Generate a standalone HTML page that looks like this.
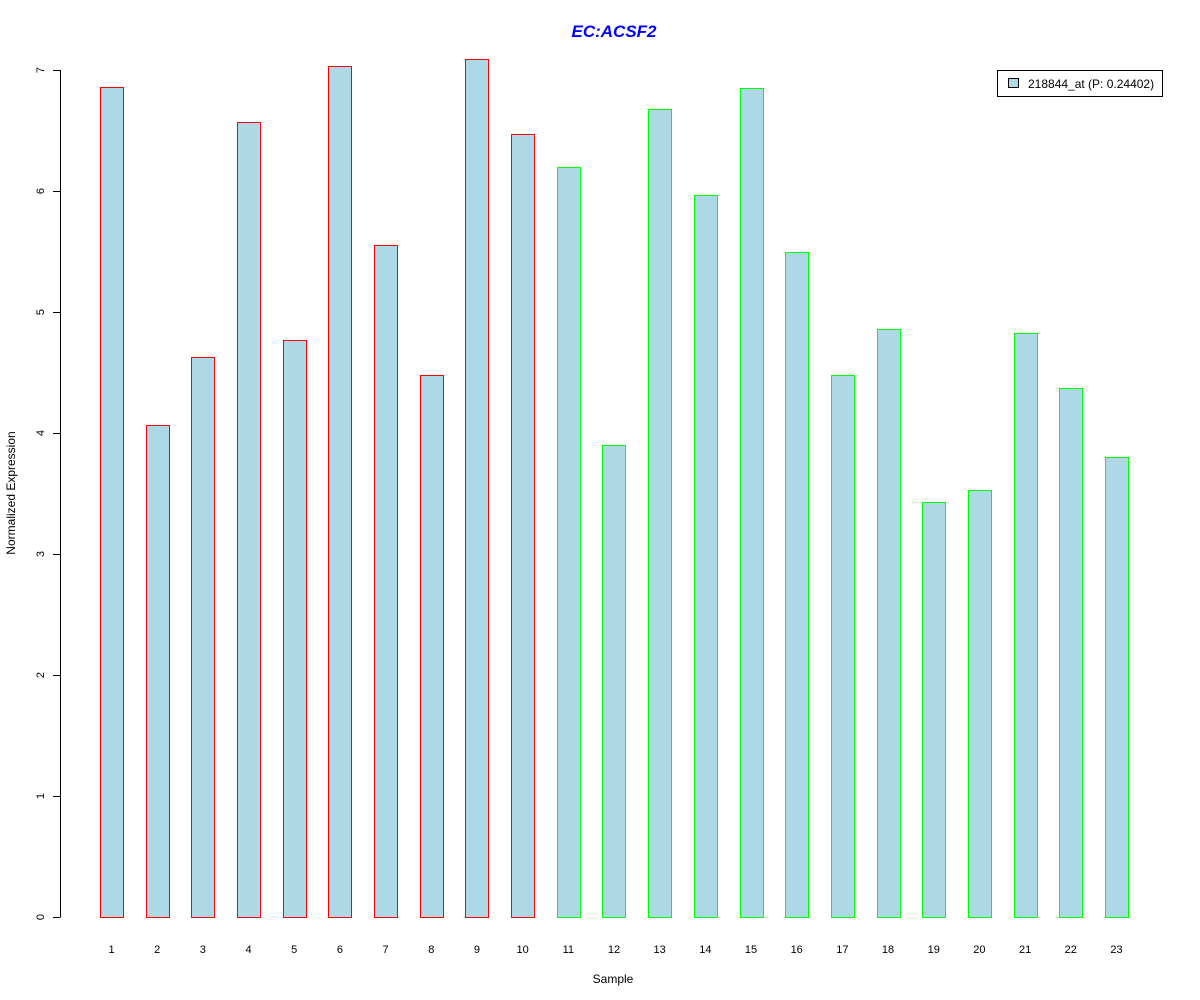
<!DOCTYPE html>
<html><head><meta charset="utf-8"><style>
body{margin:0;background:#fff;}
svg{display:block;font-family:"Liberation Sans",Arial,sans-serif;}
</style></head><body>
<svg id="chart" width="1200" height="1000">
<rect width="1200" height="1000" fill="#fff"/>
<text x="614" y="37" text-anchor="middle" font-size="17" font-weight="bold" font-style="italic" fill="#0000ff">EC:ACSF2</text>
<text x="613" y="983" text-anchor="middle" font-size="12">Sample</text>
<text transform="translate(15,493) rotate(-90)" text-anchor="middle" font-size="12">Normalized Expression</text>
<g id="yaxis"></g>
<g id="bars"></g>
<g id="xlabels"></g>
<g>
<rect x="997.5" y="70.5" width="165" height="26" fill="#fff" stroke="#000"/>
<rect x="1008.5" y="78.5" width="10" height="9" fill="#add8e6" stroke="#000"/>
<text x="1028" y="88" font-size="12">218844_at (P: 0.24402)</text>
</g>
</svg>
<script>
const categories=["1","2","3","4","5","6","7","8","9","10","11","12","13","14","15","16","17","18","19","20","21","22","23"];
const values=[6.86,4.07,4.63,6.57,4.77,7.03,5.55,4.48,7.09,6.47,6.20,3.90,6.68,5.97,6.85,5.50,4.48,4.86,3.43,3.53,4.83,4.37,3.80];
const groups=["a","a","a","a","a","a","a","a","a","a","b","b","b","b","b","b","b","b","b","b","b","b","b"];
const yTicks=[0,1,2,3,4,5,6,7];
const NS="http://www.w3.org/2000/svg";
const y=v=>917-v*121;
const x=i=>111.5+i*45.68;
function mk(t,a,p){const e=document.createElementNS(NS,t);for(const k in a)e.setAttribute(k,a[k]);p.appendChild(e);return e;}
const ya=document.getElementById('yaxis');
mk('line',{x1:60.5,x2:60.5,y1:y(0),y2:y(7),stroke:'#000'},ya);
yTicks.forEach(t=>{
 const l=mk('line',{x1:53,x2:60.5,y1:Math.round(y(t))+0.5,y2:Math.round(y(t))+0.5,stroke:'#000'},ya);
 
 
 const tx=mk('text',{transform:`translate(44,${y(t)}) rotate(-90)`,'text-anchor':'middle','font-size':11},ya);
 tx.textContent=t;
 
 
});
const bg=document.getElementById('bars'),xl=document.getElementById('xlabels');
values.forEach((v,i)=>{
 const r=mk('rect',{x:Math.round(x(i)-11.5)+0.5,y:Math.round(y(v))+0.5,width:23,height:Math.round(y(0))-Math.round(y(v)),fill:'#add8e6',stroke:groups[i]==='a'?'#ff0000':'#00ff00'},bg);
 
 
 const t=mk('text',{x:x(i),y:953,'text-anchor':'middle','font-size':11},xl);
 t.textContent=categories[i];
 
 
});
</script>
</body></html>
